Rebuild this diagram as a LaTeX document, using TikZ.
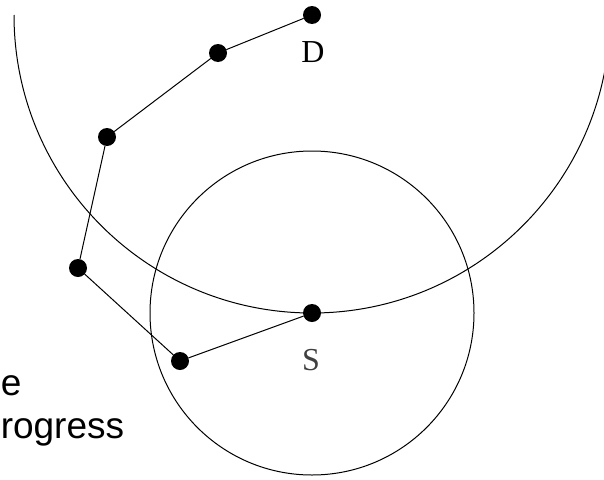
\documentclass[tikz,border=0pt]{standalone}
\usepackage{fontspec}
\setmainfont{Liberation Serif}
\newfontfamily\NoteFont{Liberation Sans}
\usepackage{tikz}
\usetikzlibrary{positioning,calc}
\newcommand{\HopRadius}{298}
\newcommand{\RangeRadius}{162}
\newcommand{\HopLabelFont}{\fontsize{32pt}{36pt}\selectfont}
\newcommand{\HopNoteFont}{\NoteFont\fontsize{37pt}{43pt}\selectfont}
\tikzset{
  hop/.style={
    circle, fill=black, draw=none,
    minimum size=18pt, inner sep=0pt, outer sep=0pt
  },
  link/.style={draw=black, line width=1pt},
  rangecircle/.style={draw=black, line width=1pt},
  hoplabel/.style={font=\HopLabelFont, inner sep=0pt}
}

\begin{document}
\begin{tikzpicture}[x=1pt, y=-1pt]
                    \useasboundingbox (0,0) rectangle (604,479);
                    % hops of the route
                    \node[hop] (D)  at (312,15)  {};
                    \node[hop] (H1) at (218,53)  {};
                    \node[hop] (H2) at (107,137) {};
                    \node[hop] (H3) at (78,268)  {};
                    \node[hop] (H4) at (180,361) {};
                    \node[hop] (S)  at (312,313) {};
                    \node[hoplabel] (DLabel) at (313,52)  {D};
                    \node[hoplabel, text=black!75] (SLabel) at (311,360) {S};
                    % ranges
                    \draw[rangecircle] (D) ++(-\HopRadius,0)
                        arc[start angle=180, end angle=0, radius=\HopRadius];
                    \draw[rangecircle] (S) circle[radius=\RangeRadius];
                    % route
                    \draw[link] (D) -- (H1) -- (H2) -- (H3) -- (H4) -- (S);
                    \node[font=\HopNoteFont, align=left, anchor=base west, inner sep=0pt]
                        (Note) at (-20,438) {ne\\progress};
                \end{tikzpicture}
\end{document}
